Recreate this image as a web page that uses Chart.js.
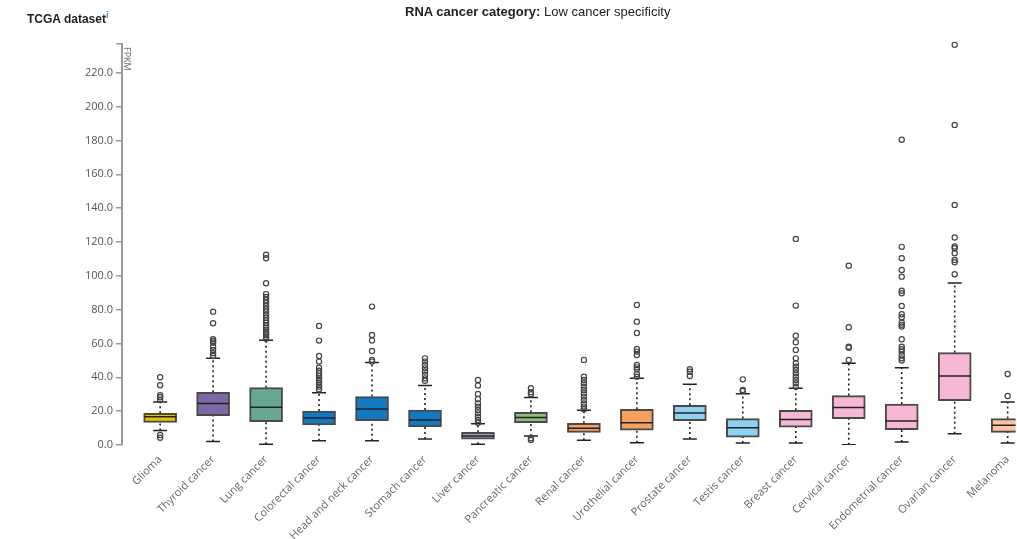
<!DOCTYPE html>
<html>
<head>
<meta charset="utf-8">
<script src="https://cdn.jsdelivr.net/npm/chart.js@4.4.1/dist/chart.umd.min.js"></script>
<style>
  html, body { margin: 0; padding: 0; background: #fff; overflow: hidden; }
  #wrap { position: relative; width: 1017px; height: 539px; }
  #box { position: absolute; left: 0; top: 0; width: 1017px; height: 539px; }
  .title { position: absolute; font-family: "Liberation Sans", Arial, sans-serif; color: #222; white-space: nowrap; }
  #dataset { left: 27px; top: 10px; font-size: 12px; font-weight: bold; }
  #dataset sup { color: #1e88e5; font-size: 9px; }
  #category { left: 405px; top: 4px; font-size: 13px; }
  #category b { font-weight: bold; }
  #unit { position: absolute; left: 125px; top: 47px; font-family: "Open Sans", sans-serif; font-size: 9px; color: #666;
          transform-origin: 0 0; transform: translate(9px, 0) rotate(90deg); }
</style>
</head>
<body>
<div id="wrap">
  <div id="box"><canvas id="chart"></canvas></div>
  <div class="title" id="dataset">TCGA dataset<sup>i</sup></div>
  <div class="title" id="category"><b>RNA cancer category:</b> Low cancer specificity</div>
  <div id="unit">FPKM</div>
</div>
<script>
// categories and box stats (FPKM)
const categories = ['Glioma', 'Thyroid cancer', 'Lung cancer', 'Colorectal cancer', 'Head and neck cancer',
  'Stomach cancer', 'Liver cancer', 'Pancreatic cancer', 'Renal cancer', 'Urothelial cancer',
  'Prostate cancer', 'Testis cancer', 'Breast cancer', 'Cervical cancer', 'Endometrial cancer',
  'Ovarian cancer', 'Melanoma'];

const whiskerLow  = [8.5, 2.0, 0.4, 2.5, 2.5, 3.5, 0.4, 5.3, 2.8, 1.4, 3.5, 1.2, 1.2, 0.2, 1.8, 6.7, 1.2];
const q1          = [13.4, 17.3, 13.8, 11.8, 14.4, 10.8, 3.4, 13.2, 7.5, 8.7, 14.4, 4.7, 10.6, 15.6, 9.1, 26.2, 7.5];
const median      = [16.7, 24.6, 22.3, 16.0, 21.3, 14.8, 5.3, 16.2, 9.9, 13.2, 18.9, 10.2, 15.0, 22.1, 14.2, 40.8, 11.6];
const q3          = [18.7, 31.2, 33.9, 20.1, 28.6, 20.7, 7.5, 19.3, 12.8, 21.1, 23.5, 15.6, 20.5, 29.2, 24.2, 54.6, 15.6];
const whiskerHigh = [25.4, 51.2, 61.9, 30.9, 48.7, 35.1, 12.6, 28.0, 20.5, 39.4, 35.9, 30.3, 33.5, 48.3, 45.7, 95.8, 25.4];

// outliers, one list per category
const outliers = [
  [40.0, 35.3, 29.4, 28.2, 26.8, 5.9, 4.3],
  [78.8, 72.0, 62.5, 61.5, 60.5, 58.0, 56.2, 54.2, 52.6],
  [112.4, 110.4, 95.6, 89.2, 87.5, 85.7, 84.0, 82.3, 80.6, 78.9, 77.0, 75.2, 73.6, 72.1, 70.6, 69.4, 68.2, 67.0, 65.9, 64.8, 63.7, 62.8],
  [70.4, 61.7, 52.6, 49.3, 45.7, 43.9, 42.4, 40.8, 39.4, 38.4, 36.8, 35.5, 34.5, 32.9],
  [81.8, 65.0, 61.7, 55.6, 50.3, 49.3],
  [51.2, 49.3, 47.3, 45.3, 43.4, 41.4, 39.4, 38.0],
  [38.4, 35.1, 30.2, 27.2, 24.6, 22.6, 20.7, 18.7, 16.7, 14.8, 13.2],
  [33.5, 31.2, 30.0, 4.0, 3.0],
  [50.3, 40.4, 38.4, 36.5, 34.5, 32.5, 30.6, 28.6, 26.6, 24.6, 22.7, 21.1],
  [82.8, 72.9, 66.2, 56.8, 55.2, 53.2, 47.3, 45.9, 44.8, 42.0, 40.4],
  [44.8, 43.3, 40.8],
  [38.8, 32.5, 31.9],
  [121.8, 82.4, 64.6, 60.7, 56.2, 51.2, 48.3, 46.3, 44.4, 42.4, 40.4, 38.4, 36.5, 34.5],
  [105.9, 69.6, 58.1, 57.5, 50.3],
  [180.4, 117.1, 110.4, 103.5, 99.5, 91.2, 89.7, 82.2, 77.3, 75.5, 72.3, 71.0, 70.0, 62.5, 58.1, 56.6, 55.2, 53.2, 51.2, 49.9],
  [236.5, 189.2, 141.9, 122.6, 117.3, 116.3, 113.4, 109.4, 108.0, 100.9],
  [42.0, 29.0]
];

const boxColors = ['#e8c100', '#7f68a6', '#68a891', '#1178c4', '#1178c4', '#1178c4', '#a6a2bd', '#8fbf7d',
  '#f5a05e', '#f5a05e', '#8fd1f2', '#8fd1f2', '#f6b8d4', '#f6b8d4', '#f6b8d4', '#f6b8d4', '#fbc3a2'];

const yTicks = [0, 20, 40, 60, 80, 100, 120, 140, 160, 180, 200, 220];

// build library data from the arrays above
const boxData = categories.map((c, i) => ({ x: i, y: [q1[i], q3[i]] }));
const medianData = categories.map((c, i) => ({ x: i, y: median[i] }));
const capData = [];
const whiskerData = [];
categories.forEach((c, i) => {
  capData.push({ x: i, y: whiskerLow[i] }, { x: i, y: whiskerHigh[i] });
  whiskerData.push({ x: i, y: whiskerLow[i] }, { x: i, y: q1[i] }, { x: i, y: null },
                   { x: i, y: q3[i] }, { x: i, y: whiskerHigh[i] }, { x: i, y: null });
});
const outlierData = [];
outliers.forEach((list, i) => list.forEach(v => outlierData.push({ x: i, y: v })));

new Chart(document.getElementById('chart'), {
  type: 'bar',
  data: {
    datasets: [
      { type: 'scatter', data: outlierData, order: 1, clip: false,
        pointStyle: 'circle', pointRadius: 2.6, pointBorderWidth: 1.2,
        pointBorderColor: '#444', pointBackgroundColor: 'rgba(255,255,255,0)' },
      { type: 'scatter', data: capData, order: 2,
        pointStyle: 'line', pointRadius: 7, pointBorderWidth: 1.5, pointBorderColor: '#222' },
      { type: 'scatter', data: medianData, order: 3,
        pointStyle: 'line', pointRadius: 16, pointBorderWidth: 1.5, pointBorderColor: '#222' },
      { type: 'line', data: whiskerData, order: 4, spanGaps: false,
        borderColor: '#222', borderWidth: 1.6, borderDash: [2, 3], pointRadius: 0, fill: false },
      { type: 'bar', data: boxData, order: 5, backgroundColor: boxColors,
        borderColor: '#4a4a4a', borderWidth: 2, borderSkipped: false, barThickness: 33, grouped: false }
    ]
  },
  options: {
    responsive: true,
    maintainAspectRatio: false,
    animation: false,
    events: [],
    layout: { padding: { top: 44, left: 0, right: 0, bottom: 0 }, autoPadding: false },
    plugins: { legend: { display: false }, tooltip: { enabled: false } },
    scales: {
      x: {
        type: 'linear',
        offset: false,
        min: -0.72,
        max: 16.15,
        afterFit: s => { s.height = 94; },
        grid: { display: false, offset: false },
        border: { display: false },
        ticks: {
          stepSize: 1,
          autoSkip: false,
          includeBounds: false,
          maxRotation: 45,
          minRotation: 45,
          padding: 0,
          color: '#666',
          font: { family: 'Open Sans', size: 11 },
          callback: v => (Number.isInteger(v) && categories[v]) ? categories[v] : ''
        }
      },
      y: {
        type: 'linear',
        min: 0,
        max: 237,
        afterFit: s => { s.width = 122; },
        afterBuildTicks: s => { s.ticks = yTicks.map(v => ({ value: v })).concat([{ value: 237 }]); },
        grid: { drawOnChartArea: false, drawTicks: true, tickLength: 6, color: '#999', lineWidth: 1.5 },
        border: { color: '#999', width: 2 },
        ticks: {
          padding: 3,
          color: '#555',
          font: { family: 'Open Sans', size: 11 },
          callback: v => yTicks.includes(v) ? v.toFixed(1) : ''
        }
      }
    }
  }
});
</script>
</body>
</html>
